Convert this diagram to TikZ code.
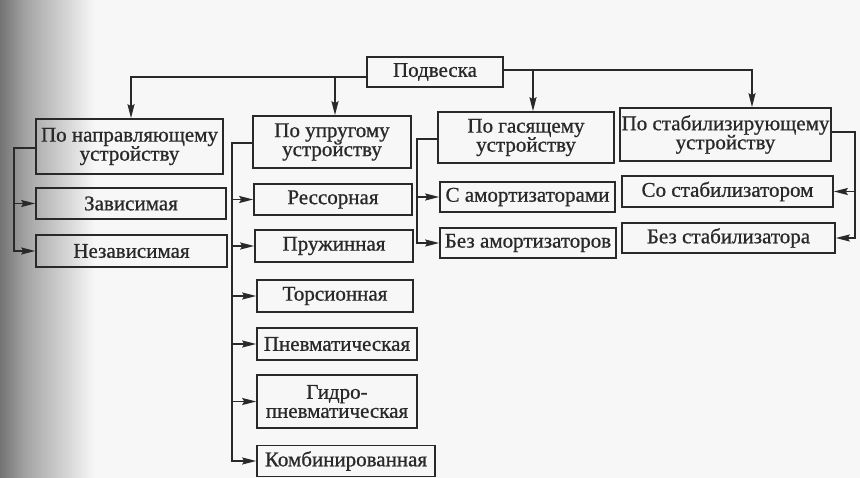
\documentclass[tikz,border=0pt]{standalone}
\usepackage{fontspec}
\setmainfont{Liberation Serif}[FakeBold=0.8]
\usepackage{tikz}
\usetikzlibrary{arrows.meta}

\begin{document}
\begin{tikzpicture}[x=1pt,y=-1pt]
    \definecolor{ink}{gray}{0.16}
    \definecolor{paper}{gray}{0.97}
    \definecolor{scanA}{gray}{0.45}
    \definecolor{scanB}{gray}{0.64}
    \tikzset{
        box/.style={draw=ink, line width=1.6pt, text=ink, align=center, inner sep=0pt,
            font=\fontsize{21}{19}\selectfont},
        link/.style={draw=ink, line width=1.6pt, -{Stealth[length=14pt,width=7pt,inset=2pt]}},
    }

    % scanned page
    \fill[paper] (0,0) rectangle (860,478);
    \shade[left color=scanA, right color=scanB] (0,0) rectangle (25,478);
    \shade[left color=scanB, right color=paper] (25,0) rectangle (95,478);
    \useasboundingbox (0,0) rectangle (860,478);

    \node[box, minimum width=136pt, minimum height=30pt] (susp) at (435,72) {Подвеска};

    \node[box, minimum width=187pt, minimum height=55pt] (guide) at (129.5,146.5) {По направляющему\\устройству};
    \node[box, minimum width=158pt, minimum height=52pt] (elastic) at (332,142) {По упругому\\устройству};
    \node[box, minimum width=176pt, minimum height=51pt] (damp) at (526,137.5) {По гасящему\\устройству};
    \node[box, minimum width=211pt, minimum height=53pt] (stab) at (725.5,134.5) {По стабилизирующему\\устройству};

    \node[box, minimum width=190pt, minimum height=31pt] (dep) at (131,203.5) {Зависимая};
    \node[box, minimum width=191pt, minimum height=32pt] (indep) at (131.5,251) {Независимая};

    \node[box, minimum width=158pt, minimum height=31pt] (leaf) at (333,199.5) {Рессорная};
    \node[box, minimum width=158pt, minimum height=32pt] (coil) at (334,246) {Пружинная};
    \node[box, minimum width=156pt, minimum height=32pt] (torsion) at (335,296) {Торсионная};
    \node[box, minimum width=160pt, minimum height=32pt] (pneum) at (337,344) {Пневматическая};
    \node[box, minimum width=160pt, minimum height=53pt] (hydro) at (337,401.5) {Гидро-\\пневматическая};
    \node[box, minimum width=178pt, minimum height=31pt] (comb) at (346,461) {Комбинированная};

    \node[box, minimum width=175pt, minimum height=30pt] (withdamp) at (527.5,197) {С амортизаторами};
    \node[box, minimum width=176pt, minimum height=30pt] (nodamp) at (528,243) {Без амортизаторов};

    \node[box, minimum width=211pt, minimum height=31pt] (withstab) at (727.5,191.5) {Со стабилизатором};
    \node[box, minimum width=213pt, minimum height=30pt] (nostab) at (728.5,238) {Без стабилизатора};

    % top level
    \coordinate (busL) at ([yshift=-5pt]susp.west);
    \coordinate (busR) at ([yshift=2pt]susp.east);
    \coordinate (inGuide) at ([xshift=1.5pt]guide.north);
    \coordinate (inElastic) at ([xshift=3pt]elastic.north);
    \coordinate (inDamp) at ([xshift=7pt]damp.north);
    \coordinate (inStab) at ([xshift=26.5pt]stab.north);
    \draw[link] (busL) -| (inGuide);
    \draw[link] (inElastic |- busL) -- (inElastic);
    \draw[link] (busR) -| (inStab);
    \draw[link] (inDamp |- busR) -- (inDamp);

    % left branches
    \coordinate (spineG) at ([xshift=-21pt,yshift=-1.5pt]guide.west);
    \draw[link] ([yshift=-1.5pt]guide.west) -- (spineG) |- (indep.west);
    \draw[link] (spineG) |- (dep.west);

    \coordinate (spineE) at ([xshift=-20pt,yshift=-1pt]elastic.west);
    \draw[link] ([yshift=-1pt]elastic.west) -- (spineE) |- (comb.west);
    \foreach \kind in {leaf,coil,torsion,pneum,hydro}
        \draw[link] (spineE) |- (\kind.west);

    \coordinate (spineD) at ([xshift=-20pt,yshift=-1.5pt]damp.west);
    \draw[link] ([yshift=-1.5pt]damp.west) -- (spineD) |- (nodamp.west);
    \draw[link] (spineD) |- (withdamp.west);

    % right branch
    \coordinate (spineS) at ([xshift=23pt,yshift=2.5pt]stab.east);
    \draw[link] ([yshift=2.5pt]stab.east) -- (spineS) |- (nostab.east);
    \draw[link] (spineS) |- (withstab.east);
\end{tikzpicture}
\end{document}
